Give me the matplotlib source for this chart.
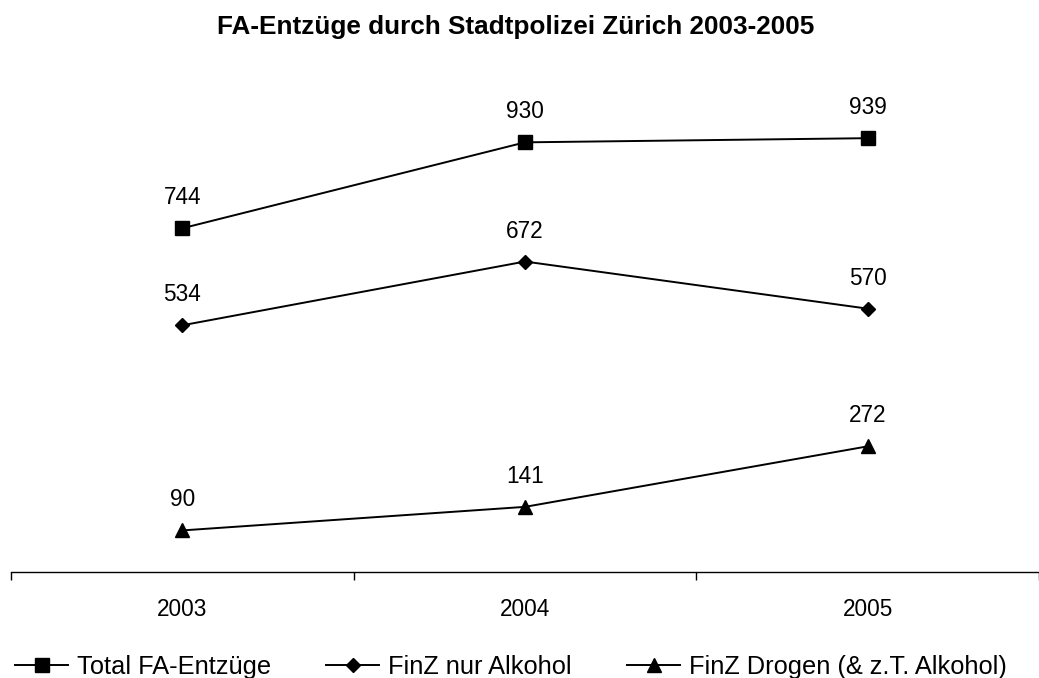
import matplotlib
matplotlib.use("Agg")
import matplotlib.pyplot as plt
import numpy as np

plt.rcParams["font.family"] = ["Liberation Sans", "DejaVu Sans"]

# data
years = ["2003", "2004", "2005"]
total_fa = [744, 930, 939]
finz_alkohol = [534, 672, 570]
finz_drogen = [90, 141, 272]
series_names = ["Total FA-Entzüge", "FinZ nur Alkohol", "FinZ Drogen (& z.T. Alkohol)"]

fig = plt.figure(figsize=(10.39, 6.78), dpi=100)
ax = fig.add_axes([11 / 1039, 1 - 572 / 678, 1 - 11 / 1039, (572 - 110) / 678])

x = np.arange(len(years))
series = [total_fa, finz_alkohol, finz_drogen]
markers = [("s", 10), ("D", 7.2), ("^", 10)]

for vals, name, (m, ms) in zip(series, series_names, markers):
    ax.plot(x, vals, color="black", lw=1.4, marker=m, markersize=ms, label=name)
    for xi, v in zip(x, vals):
        ax.annotate(str(v), (xi, v), xytext=(0, 24), textcoords="offset pixels",
                    ha="center", va="baseline", fontsize=16.3)

ax.set_xlim(-0.5, len(years) - 0.5)
ax.set_ylim(0, 1000)

for s in ["top", "right", "left"]:
    ax.spines[s].set_visible(False)
ax.spines["bottom"].set_linewidth(1.0)
ax.set_yticks([])

ax.set_xticks(x)
ax.set_xticklabels(years, fontsize=16.3)
ax.tick_params(axis="x", which="major", length=0, pad=18.8)
ax.set_xticks(np.arange(-0.5, len(years)), minor=True)
ax.tick_params(axis="x", which="minor", length=6, width=1.0, direction="out")

fig.text(515.5 / 1039, 1 - 34 / 678, "FA-Entzüge durch Stadtpolizei Zürich 2003-2005",
         ha="center", va="baseline", fontsize=18.8, fontweight="bold")

fig.legend(loc="lower left", bbox_to_anchor=(15 / 1039, -1 / 678), ncol=3,
           frameon=False, fontsize=18.3, handlelength=2.09, handletextpad=0.35,
           columnspacing=2.17, borderpad=0, borderaxespad=0)

fig.savefig("out.png", dpi=100)
